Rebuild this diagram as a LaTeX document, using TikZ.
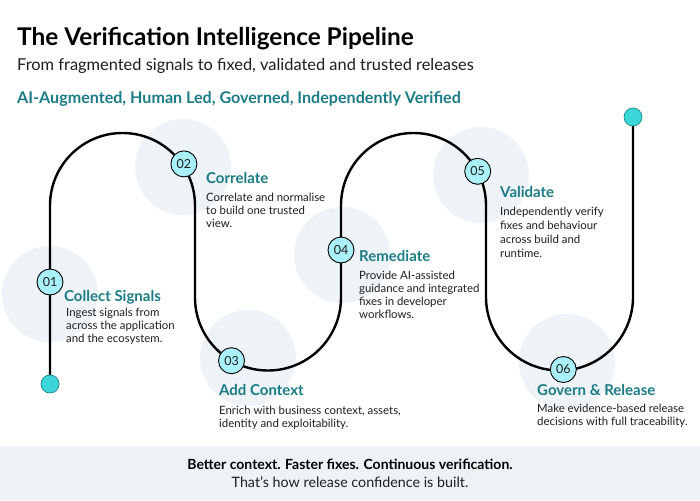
\documentclass[tikz,border=0pt]{standalone}
\usepackage{fontspec}
\setmainfont{Lato}
\definecolor{teal}{HTML}{1B7C86}
\definecolor{halo}{HTML}{EEF3F8}
\definecolor{numfill}{HTML}{AAF0F8}
\definecolor{dotfill}{HTML}{3DD6D8}
\definecolor{dotline}{HTML}{1A8A8C}
\definecolor{band}{HTML}{EEF2F6}
\definecolor{ink}{HTML}{1E1E1E}
\tikzset{
  halocirc/.style={fill=halo, draw=none},
  numnode/.style={circle, draw=black, line width=0.9pt, fill=numfill, minimum size=26pt, inner sep=0pt, font=\fontsize{12.5}{14}\selectfont, text=ink},
  enddot/.style={circle, draw=dotline, line width=0.7pt, fill=dotfill, minimum size=18pt, inner sep=0pt},
  heading/.style={anchor=base west, inner sep=0pt, text=teal, font=\fontsize{15}{17}\bfseries\selectfont},
  desc/.style={anchor=north west, inner sep=0pt, align=left, text=ink, font=\fontsize{11.4}{13}\selectfont},
  pipe/.style={line width=2.4pt, black}
}
\begin{document}
\begin{tikzpicture}[x=1pt, y=-1pt]
\useasboundingbox (0,0) rectangle (700,500);
\fill[white] (0,0) rectangle (700,500);
% footer band
\fill[band] (0,446) rectangle (700,500);
% halos
\foreach \cx/\cy in {50/294, 183/167, 248/358, 342/255, 481/175, 567/362}
  \fill[halocirc] (\cx,\cy) circle[radius=48pt];
% title block
\node[anchor=base west, inner sep=0pt, font=\fontsize{24.4}{28}\bfseries\selectfont, text=black] (title) at (17,46) {The Verification Intelligence Pipeline};
\node[anchor=base west, inner sep=0pt, font=\fontsize{16.4}{19}\selectfont, text=ink] (subtitle) at (17,71) {From fragmented signals to fixed, validated and trusted releases};
\node[anchor=base west, inner sep=0pt, font=\fontsize{16.1}{19}\bfseries\selectfont, text=teal] (tagline) at (17,103) {AI-Augmented, Human Led, Governed, Independently Verified};
% pipeline path
\coordinate (startdot) at (50,384);
\coordinate (enddotc) at (633,117);
\draw[pipe] (startdot) -- (50,205.5) arc[start angle=180, end angle=0, radius=72.5pt]
  -- (195,297.5) arc[start angle=180, end angle=360, radius=73pt]
  -- (341,205.5) arc[start angle=180, end angle=0, radius=72.5pt]
  -- (486,297) arc[start angle=180, end angle=360, radius=73.5pt]
  -- (enddotc);
% end dots
\node[enddot] (dotA) at (startdot) {};
\node[enddot] (dotB) at (enddotc) {};
% number nodes
\node[numnode] (n1) at (50,282) {01};
\node[numnode] (n2) at (183.9,163.9) {02};
\node[numnode] (n3) at (231.5,360.7) {03};
\node[numnode] (n4) at (341,250) {04};
\node[numnode] (n5) at (477.7,171.3) {05};
\node[numnode] (n6) at (563.3,369.5) {06};
% headings
\node[heading] (h1) at (64,301) {Collect Signals};
\node[heading] (h2) at (206,183.3) {Correlate};
\node[heading] (h3) at (219,395.7) {Add Context};
\node[heading] (h4) at (359,261.7) {Remediate};
\node[heading] (h5) at (500,197.3) {Validate};
\node[heading] (h6) at (537,395.7) {Govern \& Release};
% descriptions
\node[desc] (d1) at (66,307.5) {Ingest signals from\\across the application\\and the ecosystem.};
\node[desc] (d2) at (206,192.5) {Correlate and normalise\\to build one trusted\\view.};
\node[desc] (d3) at (219,405.5) {Enrich with business context, assets,\\identity and exploitability.};
\node[desc] (d4) at (359,270.5) {Provide AI-assisted\\guidance and integrated\\fixes in developer\\workflows.};
\node[desc, font=\fontsize{11.4}{14}\selectfont] (d5) at (500,206.5) {Independently verify\\fixes and behaviour\\across build and\\runtime.};
\node[desc] (d6) at (537,403.5) {Make evidence-based release\\decisions with full traceability.};
% footer
\node[anchor=base, inner sep=0pt, font=\fontsize{14}{16}\bfseries\selectfont, text=black] (foot1) at (350,469.5) {Better context. Faster fixes. Continuous verification.};
\node[anchor=base, inner sep=0pt, font=\fontsize{14.3}{16}\selectfont, text=ink] (foot2) at (350,487.5) {That’s how release confidence is built.};
\end{tikzpicture}
\end{document}
